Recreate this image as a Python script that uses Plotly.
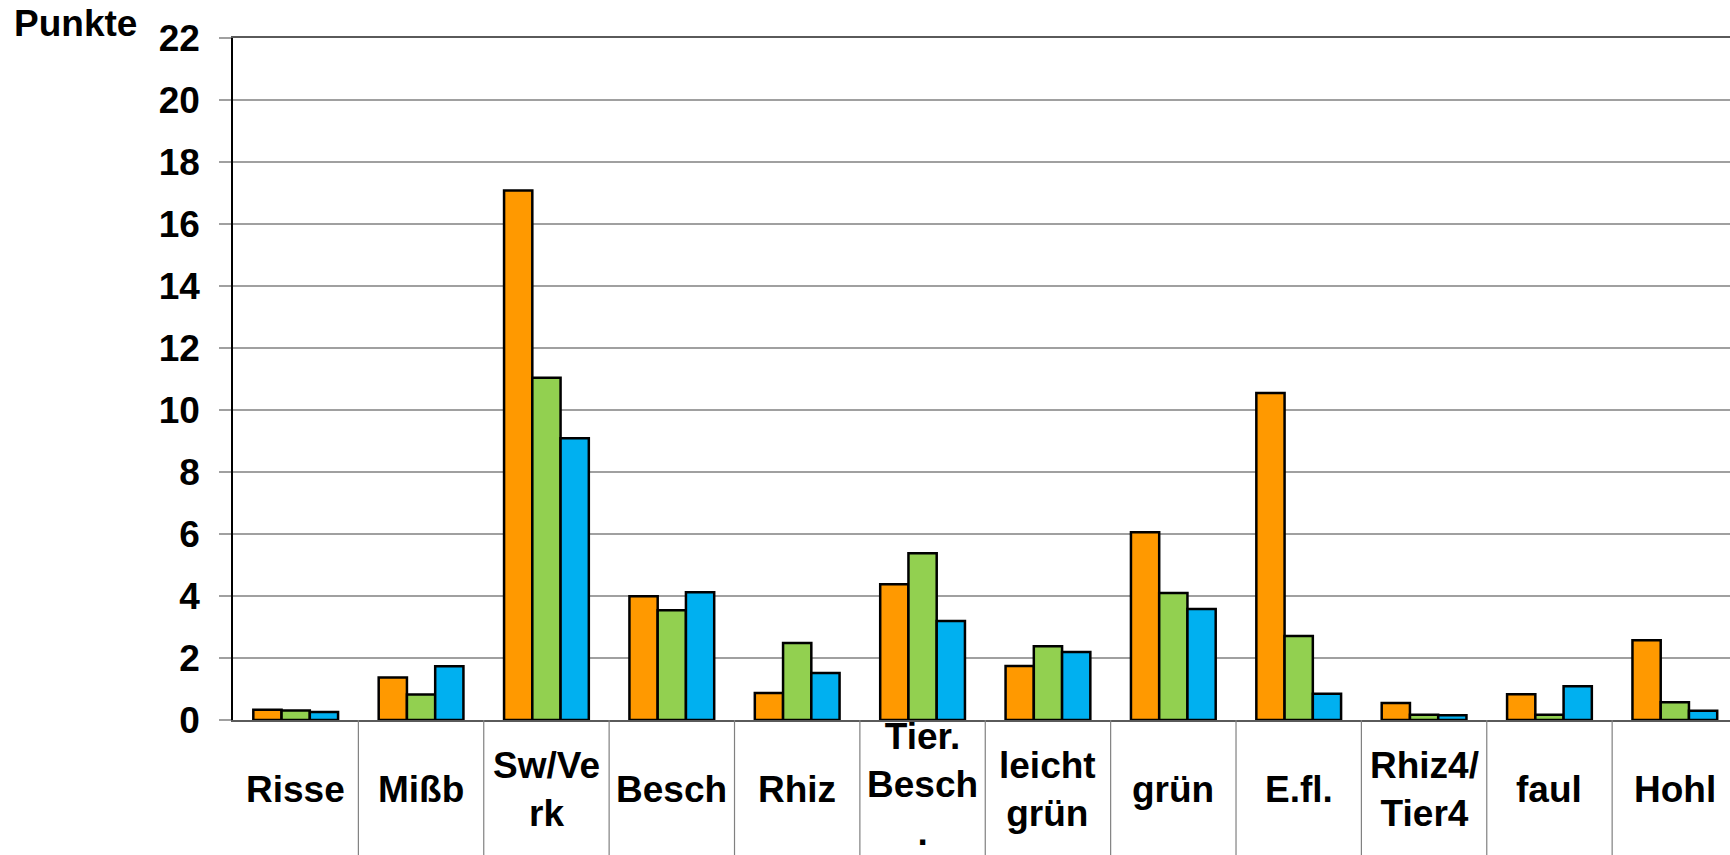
import plotly.graph_objects as go

categories = ["Risse", "Mißb", "Sw/Ve<br>rk", "Besch", "Rhiz", "Tier.<br>Besch<br>.",
              "leicht<br>grün", "grün", "E.fl.", "Rhiz4/<br>Tier4", "faul", "Hohl"]
serie_orange = [0.33, 1.37, 17.08, 3.99, 0.87, 4.38, 1.74, 6.06, 10.55, 0.55, 0.83, 2.57]
serie_gruen = [0.31, 0.82, 11.04, 3.54, 2.48, 5.38, 2.38, 4.10, 2.71, 0.17, 0.17, 0.57]
serie_blau = [0.26, 1.73, 9.09, 4.12, 1.52, 3.19, 2.19, 3.58, 0.85, 0.15, 1.09, 0.30]
y_ticks = [0, 2, 4, 6, 8, 10, 12, 14, 16, 18, 20, 22]
y_title = "Punkte"

FONT = "Liberation Sans, Arial, sans-serif"
idx = list(range(len(categories)))

fig = go.Figure()
for name, vals, col in [("Serie 1", serie_orange, "#FF9900"),
                        ("Serie 2", serie_gruen, "#92D050"),
                        ("Serie 3", serie_blau, "#00B0F0")]:
    fig.add_trace(go.Bar(x=idx, y=vals, name=name,
                         marker=dict(color=col, line=dict(color="black", width=2.5))))

W, H = 1730, 855
ml, mr, mt, mb = 233, 0, 38, 135
ph = H - mt - mb

fig.update_layout(
    width=W, height=H,
    margin=dict(l=ml, r=mr, t=mt, b=mb, pad=0),
    paper_bgcolor="white", plot_bgcolor="white",
    barmode="group", bargap=0.324, bargroupgap=0,
    showlegend=False,
    font=dict(family=FONT, color="black"),
    xaxis=dict(range=[-0.5, 11.44], showticklabels=False, ticks="",
               showgrid=False, zeroline=False, showline=True, mirror=True,
               linecolor="#5a5a5a", linewidth=2, fixedrange=True),
    yaxis=dict(range=[0, 22], tickvals=y_ticks, ticks="outside", ticklen=12,
               tickcolor="#a0a0a0", tickwidth=1.5, showgrid=True,
               gridcolor="#a0a0a0", gridwidth=1.5, zeroline=False,
               showline=True, linecolor="black", linewidth=1.5,
               tickfont=dict(family=FONT, size=37, color="black", weight="bold"),
               ticklabelstandoff=12),
)

# separator lines between categories below the axis
for i in range(1, len(categories)):
    fig.add_shape(type="line", xref="x", yref="paper", x0=i - 0.5, x1=i - 0.5,
                  y0=0, y1=-mb / ph, line=dict(color="#808080", width=1.2))

# category labels, vertically centered in the band below the axis
for i, c in enumerate(categories):
    n_lines = c.count("<br>") + 1
    off = 64 if n_lines >= 3 else 70
    fig.add_annotation(x=i, xref="x", y=-off / ph, yref="paper", text=c,
                       showarrow=False, xanchor="center", yanchor="middle",
                       font=dict(family=FONT, size=37, color="black", weight="bold"))

fig.add_annotation(x=-221 / (W - ml), xref="paper", y=1 + 15 / ph, yref="paper",
                   text=y_title, showarrow=False, xanchor="left", yanchor="middle",
                   font=dict(family=FONT, size=37, color="black", weight="bold"))

fig.write_html("out.html", config={"displayModeBar": False},
               post_script="document.body.style.margin='0';document.body.style.overflow='hidden';")
